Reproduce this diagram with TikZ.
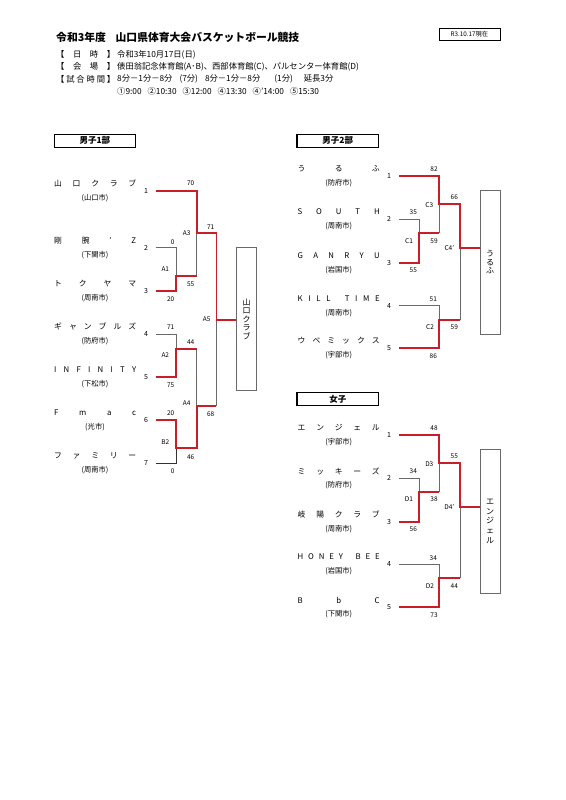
\documentclass[tikz,border=0pt]{standalone}
\usepackage{fontspec}
\setmainfont{Noto Sans CJK JP}
\definecolor{bred}{RGB}{200,30,40}
\definecolor{lgrey}{RGB}{105,105,105}
\newcommand{\sprd}[1]{\hbox to 82pt{#1}}
\newcommand{\hsprd}[1]{\hbox to 59pt{#1}}
\begin{document}
\begin{tikzpicture}[x=1pt,y=-1pt,
  gl/.style={draw=lgrey, line width=0.8pt},
  dl/.style={draw=black!80, line width=0.8pt},
  rl/.style={draw=bred, line width=1.8pt},
  sc/.style={inner sep=0, font=\fontsize{6.5}{7}\selectfont},
  sd/.style={inner sep=0, font=\fontsize{7}{8}\selectfont},
  nm/.style={anchor=west, inner sep=0, font=\fontsize{7.8}{9}\selectfont},
  sb/.style={inner sep=0, font=\fontsize{7.3}{8}\selectfont},
  wbox/.style={draw=lgrey, line width=0.9pt, minimum width=20pt, inner sep=0, align=center},
  dbox/.style={draw=black, line width=1.1pt, minimum width=81.7pt, minimum height=13.3pt, inner sep=0, font=\bfseries\fontsize{8.5}{9}\selectfont},
  hd/.style={anchor=west, inner sep=0, font=\fontsize{8.3}{9}\selectfont}]
\useasboundingbox[fill=white] (0,0) rectangle (565,800);

% ---------- header ----------
\node[anchor=west, inner sep=0, font=\bfseries\fontsize{10.8}{12}\selectfont] (title) at (56,37.5) {令和3年度\hspace{0.9em}山口県体育大会バスケットボール競技};
\node[draw=black, line width=0.7pt, minimum width=61pt, minimum height=12.4pt, inner sep=0, font=\fontsize{6.3}{7}\selectfont] (date) at (469.5,34.5) {R3.10.17現在};
\node[hd] (h1a) at (56,54.5) {\hsprd{【\hfill 日\hfill 時\hfill 】}};
\node[hd] (h1b) at (117,54.5) {令和3年10月17日(日)};
\node[hd] (h2a) at (56,66.5) {\hsprd{【\hfill 会\hfill 場\hfill 】}};
\node[hd] (h2b) at (117,66.5) {俵田翁記念体育館(A･B)、西部体育館(C)、パルセンター体育館(D)};
\node[hd] (h3a) at (56,79) {\hsprd{【\hfill 試\hfill 合\hfill 時\hfill 間\hfill 】}};
\node[hd] (h3b) at (117,79) {8分－1分－8分\hspace{7pt}(7分)\hspace{7pt}8分－1分－8分\hspace{14pt}(1分)\hspace{11pt}延長3分};
\node[hd] (h4b) at (117,91) {①9:00\hspace{6pt}②10:30\hspace{6pt}③12:00\hspace{6pt}④13:30\hspace{6pt}④'14:00\hspace{6pt}⑤15:30};

% ---------- division boxes ----------
\node[dbox] (d1) at (94.9,140.7) {男子1部};
\node[dbox] (d2) at (337.8,140.7) {男子2部};
\node[dbox] (d3) at (337.8,398.8) {女子};

% ---------- men 1 ----------
\node[nm] at (54,183.4) {\sprd{山\hfill 口\hfill ク\hfill ラ\hfill ブ}};
\node[sb] at (95,197.7) {(山口市)};
\node[nm] at (54,240.6) {\sprd{剛\hfill 腕\hfill '\hfill Z}};
\node[sb] at (95,254.8) {(下関市)};
\node[nm] at (54,283.8) {\sprd{ト\hfill ク\hfill ヤ\hfill マ}};
\node[sb] at (95,298) {(周南市)};
\node[nm] at (54,326.8) {\sprd{ギ\hfill ャ\hfill ン\hfill ブ\hfill ル\hfill ズ}};
\node[sb] at (95,341) {(防府市)};
\node[nm] at (54,370) {\sprd{I\hfill N\hfill F\hfill I\hfill N\hfill I\hfill T\hfill Y}};
\node[sb] at (95,384.3) {(下松市)};
\node[nm] at (54,412.8) {\sprd{F\hfill m\hfill a\hfill c}};
\node[sb] at (95,427) {(光市)};
\node[nm] at (54,456) {\sprd{フ\hfill ァ\hfill ミ\hfill リ\hfill ー}};
\node[sb] at (95,470.3) {(周南市)};

\foreach \i/\y in {1/190.7,2/247.7,3/291,4/334,5/377.3,6/420,7/463.3}{
  \node[sd] (ls\i) at (146,\y) {\i};
  \coordinate (L\i) at (155.7,\y);
}
\coordinate (A1) at (176,276);
\coordinate (A2) at (176,349);
\coordinate (B2) at (176,448.3);
\coordinate (A3) at (196.7,233.3);
\coordinate (A4) at (196.7,406);
\coordinate (A5) at (216.4,320);
\node[wbox, minimum height=143pt, font=\fontsize{8}{8.6}\selectfont] (W1) at (246.7,319.2) {山\\口\\ク\\ラ\\ブ};

\draw[gl] (L2) -- (L2 -| A1) -- (A1);
\draw[gl] (A3) -- (A1 -| A3);
\draw[gl] (L4) -- (L4 -| A2) -- (A2);
\draw[gl] (A2 -| A4) -- (A4);
\draw[dl] (L7) -- (L7 -| B2) -- (B2);
\draw[gl] (A5) -- (A4 -| A5);
\draw[rl] (L1) -- (L1 -| A3) -- (A3) -- (A3 -| A5) -- (A5) -- (A5 -| W1.west);
\draw[rl] (L3) -- (L3 -| A1) -- (A1) -- (A1 -| A3);
\draw[rl] (L5) -- (L5 -| A2) -- (A2) -- (A2 -| A4);
\draw[rl] (L6) -- (L6 -| B2) -- (B2) -- (B2 -| A4) -- (A4) -- (A4 -| A5);

\foreach \t/\x/\y in {70/190.7/183.3, 0/172.7/241.7, 20/170.7/299, 55/190.7/284, 71/210.7/226.7,
  71/170.7/327, 75/170.7/385, 44/190.7/341.7, 20/170.7/413, 0/172.7/471, 46/190.7/456.7, 68/210.7/414}{
  \node[sc] at (\x,\y) {\t};
}
\foreach \t/\x/\y in {A1/165.3/269.3, A2/165.3/355, B2/165.3/441.7, A3/186.7/233.3, A4/186.7/403.5, A5/206.7/319}{
  \node[sc] at (\x,\y) {\t};
}

% ---------- men 2 ----------
\node[nm] at (297.5,168.8) {\sprd{う\hfill る\hfill ふ}};
\node[sb] at (338.7,183) {(防府市)};
\node[nm] at (297.5,212) {\sprd{S\hfill O\hfill U\hfill T\hfill H}};
\node[sb] at (338.7,226.3) {(周南市)};
\node[nm] at (297.5,255.4) {\sprd{G\hfill A\hfill N\hfill R\hfill Y\hfill U}};
\node[sb] at (338.7,269.7) {(岩国市)};
\node[nm] at (297.5,298.4) {\sprd{K\hfill I\hfill L\hfill L\hfill\hspace{3pt}\hfill T\hfill I\hfill M\hfill E}};
\node[sb] at (338.7,312.7) {(周南市)};
\node[nm] at (297.5,341) {\sprd{ウ\hfill ベ\hfill ミ\hfill ッ\hfill ク\hfill ス}};
\node[sb] at (338.7,355.3) {(宇部市)};

\foreach \i/\y in {1/176,2/219.3,3/262.7,4/305.7,5/348.3}{
  \node[sd] (rs\i) at (389,\y) {\i};
  \coordinate (R\i) at (399,\y);
}
\coordinate (C1) at (419,233.3);
\coordinate (C2) at (439,320);
\coordinate (C3) at (439,204.3);
\coordinate (C4) at (460,248);
\node[wbox, minimum height=143.3pt, font=\fontsize{8}{8.6}\selectfont] (W2) at (490,262.3) {う\\る\\ふ};

\draw[gl] (C3) -- (C1 -| C3);
\draw[gl] (R2) -- (R2 -| C1) -- (C1);
\draw[gl] (R4) -- (R4 -| C2) -- (C2);
\draw[gl] (C4) -- (C2 -| C4);
\draw[rl] (R1) -- (R1 -| C3) -- (C3) -- (C3 -| C4) -- (C4) -- (C4 -| W2.west);
\draw[rl] (R3) -- (R3 -| C1) -- (C1) -- (C1 -| C3);
\draw[rl] (R5) -- (R5 -| C2) -- (C2) -- (C2 -| C4);

\foreach \t/\x/\y in {82/434/169.3, 35/413.3/212.3, 55/413.3/270, 59/434/240.7, 66/454.3/197.3,
  51/433.3/299.3, 86/433.3/356, 59/454.3/327.3}{
  \node[sc] at (\x,\y) {\t};
}
\foreach \t/\x/\y in {C1/409/240.7, C3/429.3/205, C2/430/327.3, C4'/449.3/248}{
  \node[sc] at (\x,\y) {\t};
}

% ---------- women ----------
\node[nm] at (297.5,427.7) {\sprd{エ\hfill ン\hfill ジ\hfill ェ\hfill ル}};
\node[sb] at (338.7,442) {(宇部市)};
\node[nm] at (297.5,471) {\sprd{ミ\hfill ッ\hfill キ\hfill ー\hfill ズ}};
\node[sb] at (338.7,485.3) {(防府市)};
\node[nm] at (297.5,514.4) {\sprd{岐\hfill 陽\hfill ク\hfill ラ\hfill ブ}};
\node[sb] at (338.7,528.7) {(周南市)};
\node[nm] at (297.5,557) {\sprd{H\hfill O\hfill N\hfill E\hfill Y\hfill\hspace{3pt}\hfill B\hfill E\hfill E}};
\node[sb] at (338.7,571.3) {(岩国市)};
\node[nm] at (297.5,600) {\sprd{B\hfill b\hfill C}};
\node[sb] at (338.7,614.3) {(下関市)};

\foreach \i/\y in {1/435,2/478.3,3/521.7,4/564.3,5/607.3}{
  \node[sd] (fs\i) at (389,\y) {\i};
  \coordinate (F\i) at (399,\y);
}
\coordinate (D1) at (419,492.3);
\coordinate (D2) at (439,578.3);
\coordinate (D3) at (439,463.3);
\coordinate (D4) at (460,506.7);
\node[wbox, minimum height=144pt, font=\fontsize{8}{9.6}\selectfont] (W3) at (490,521.3) {エ\\ン\\ジ\\ェ\\ル};

\draw[gl] (D3) -- (D1 -| D3);
\draw[gl] (F2) -- (F2 -| D1) -- (D1);
\draw[gl] (F4) -- (F4 -| D2) -- (D2);
\draw[gl] (D4) -- (D2 -| D4);
\draw[rl] (F1) -- (F1 -| D3) -- (D3) -- (D3 -| D4) -- (D4) -- (D4 -| W3.west);
\draw[rl] (F3) -- (F3 -| D1) -- (D1) -- (D1 -| D3);
\draw[rl] (F5) -- (F5 -| D2) -- (D2) -- (D2 -| D4);

\foreach \t/\x/\y in {48/434/428.3, 34/413.3/470.7, 56/413.3/529, 38/434/499.3, 55/454.3/456.7,
  34/433.3/557.7, 73/434/615, 44/454.3/586}{
  \node[sc] at (\x,\y) {\t};
}
\foreach \t/\x/\y in {D3/429.3/464, D1/409/499.3, D2/430/586, D4'/449.3/506.7}{
  \node[sc] at (\x,\y) {\t};
}
\end{tikzpicture}
\end{document}
